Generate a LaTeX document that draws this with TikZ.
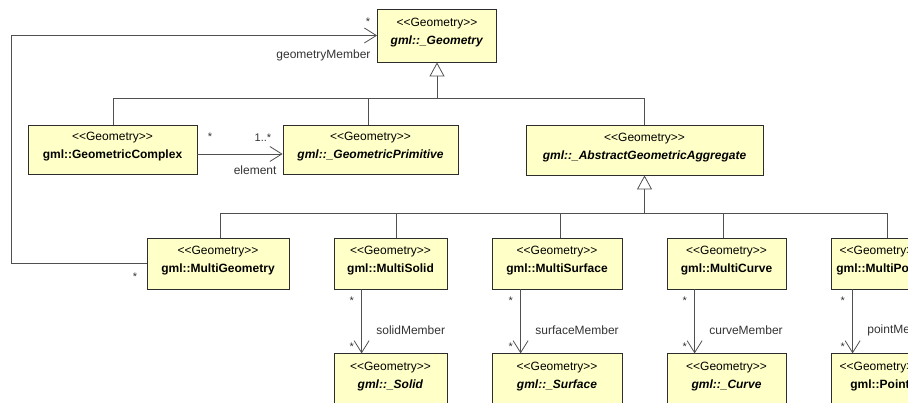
\documentclass[tikz,border=0pt]{standalone}
\usepackage{fontspec}
\setmainfont{Liberation Sans}
\usetikzlibrary{positioning, arrows.meta}
\definecolor{classfill}{RGB}{255,255,200}
\definecolor{classline}{RGB}{45,45,45}
\definecolor{linkline}{RGB}{80,80,80}
\newcommand{\stereo}{<\kern0pt<Geometry>\kern0pt>}

\begin{document}
\begin{tikzpicture}[
         x=1pt, y=-1pt,
         node distance=64pt,
         umlclass/.style={rectangle, draw=classline, fill=classfill, line width=0.8pt,
            minimum height=51pt, inner sep=0pt, align=center, font=\fontsize{12}{18}\selectfont},
         generalize/.style={draw=linkline, line width=0.8pt,
            -{Triangle[open, length=14pt, width=15pt, fill=white]}},
         assoc/.style={draw=linkline, line width=0.8pt, -{Straight Barb[length=12pt, width=15pt]}},
         tree/.style={draw=linkline, line width=0.8pt},
         mult/.style={font=\fontsize{11}{12}\selectfont, text=black!80},
         role/.style={font=\fontsize{12}{14}\selectfont, text=black!80}
      ]
         \useasboundingbox (0,0) rectangle (908,403);
         \clip (0,0) rectangle (908,403);

         % Root class
         \node[umlclass, minimum width=119pt, minimum height=53pt] (geom) at (437,35.5)
            {\stereo\\\textbf{\textit{gml::\_Geometry}}\\[-10pt]\mbox{}};

         % Second level
         \node[umlclass, minimum width=169pt, minimum height=49pt] (complex) at (112.5,149.5)
            {\stereo\\\textbf{gml::GeometricComplex}\\[-10pt]\mbox{}};
         \node[umlclass, minimum width=175pt, minimum height=49pt] (prim) at (370.5,149.5)
            {\stereo\\\textbf{\textit{gml::\_GeometricPrimitive}}\\[-10pt]\mbox{}};
         \node[umlclass, minimum width=237pt, minimum height=50pt] (aggr) at (644.5,150)
            {\stereo\\\textbf{\textit{gml::\_AbstractGeometricAggregate}}\\[-10pt]\mbox{}};

         % Aggregates
         \node[umlclass, minimum width=142pt] (mgeom) at (218,263.5)
            {\stereo\\\textbf{gml::MultiGeometry}\\[-10pt]\mbox{}};
         \node[umlclass, minimum width=113pt] (msolid) at (390.5,263.5)
            {\stereo\\\textbf{gml::MultiSolid}\\[-10pt]\mbox{}};
         \node[umlclass, minimum width=130pt] (msurf) at (557,263.5)
            {\stereo\\\textbf{gml::MultiSurface}\\[-10pt]\mbox{}};
         \node[umlclass, minimum width=119pt] (mcurve) at (726.5,263.5)
            {\stereo\\\textbf{gml::MultiCurve}\\[-10pt]\mbox{}};
         \node[umlclass, minimum width=98pt] (mpoint) at (880,263.5)
            {\stereo\\\textbf{gml::MultiPoint}\\[-10pt]\mbox{}};

         % Members
         \node[umlclass, minimum width=113pt] (solid) [below=of msolid]
            {\stereo\\\textbf{\textit{gml::\_Solid}}\\[-10pt]\mbox{}};
         \node[umlclass, minimum width=130pt] (surf) [below=of msurf]
            {\stereo\\\textbf{\textit{gml::\_Surface}}\\[-10pt]\mbox{}};
         \node[umlclass, minimum width=119pt] (curve) [below=of mcurve]
            {\stereo\\\textbf{\textit{gml::\_Curve}}\\[-10pt]\mbox{}};
         \node[umlclass, minimum width=98pt] (point) [below=of mpoint]
            {\stereo\\\textbf{gml::Point}\\[-10pt]\mbox{}};

         % Generalization trees
         \coordinate (topbar) at (437,98);
         \coordinate (lowbar) at (644.5,213);
         \draw[generalize] (topbar) -- (geom);
         \draw[tree] ([xshift=0.5pt]complex.north |- topbar) -- (aggr |- topbar);
         \foreach \n/\s in {complex/0.5, prim/-2.5, aggr/0}
            \draw[tree] ([xshift=\s pt]\n.north) -- ([xshift=\s pt]\n.north |- topbar);
         \draw[generalize] (lowbar) -- (aggr);
         \draw[tree] ([xshift=2pt]mgeom.north |- lowbar) -- ([xshift=7pt]mpoint.north |- lowbar);
         \foreach \n/\s in {mgeom/2, msolid/5.5, msurf/3, mcurve/-3.5, mpoint/7}
            \draw[tree] ([xshift=\s pt]\n.north) -- ([xshift=\s pt]\n.north |- lowbar);

         % Associations
         \draw[assoc] ([yshift=-4.5pt]complex.east) -- ([yshift=-4.5pt]prim.west);
         \node[mult] (elemsrc) at (210,137) {*};
         \node[mult] (elemdst) at (263,138) {1..*};
         \node[role, anchor=east] (elemrole) at (280,170) {element};

         \draw[assoc] (mgeom.west) -- ++(-135,0) |- (geom.west);
         \node[mult] (membsrc) at (135,277) {*};
         \node[mult] (membdst) at (368,22) {*};
         \node[role, anchor=east] (membrole) at (374,55) {geometryMember};

         \foreach \n/\m/\dx/\lbl in {msolid/solid/28/solidMember, msurf/surf/29/surfaceMember,
               mcurve/curve/28/curveMember, mpoint/point/22/pointMember}
            \draw[assoc] ([xshift=\dx pt]\n.south west) --
               node[mult, pos=0.18, left=4pt] (\n src) {*}
               node[mult, pos=0.9, left=4pt] (\n dst) {*}
               node[role, pos=0.64, right=11pt] (\n role) {\lbl}
               ([xshift=\dx pt]\m.north west);

      \end{tikzpicture}
\end{document}
